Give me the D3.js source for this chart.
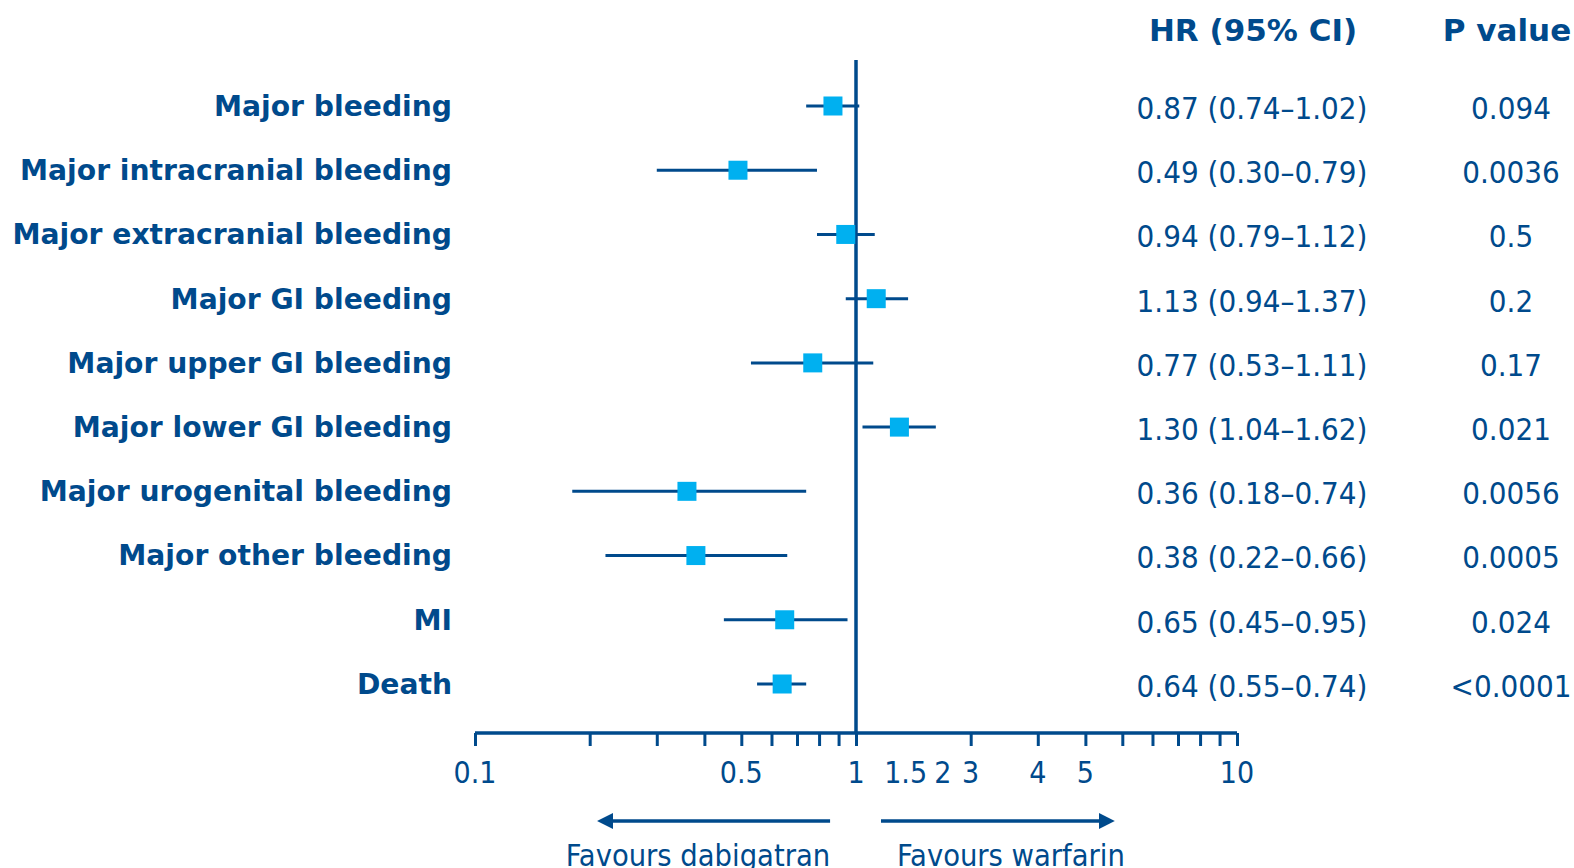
<!DOCTYPE html>
<html>
<head>
<meta charset="utf-8">
<script src="https://cdn.jsdelivr.net/npm/d3@7"></script>
<style>
  html, body { margin: 0; padding: 0; background: #fff; overflow: hidden; }
  svg { display: block; }
</style>
</head>
<body>
<div id="chart"></div>
<script>
// outcomes, top to bottom
const outcomes = [
  "Major bleeding",
  "Major intracranial bleeding",
  "Major extracranial bleeding",
  "Major GI bleeding",
  "Major upper GI bleeding",
  "Major lower GI bleeding",
  "Major urogenital bleeding",
  "Major other bleeding",
  "MI",
  "Death"
]
const hazardRatios = [0.87, 0.49, 0.94, 1.13, 0.77, 1.30, 0.36, 0.38, 0.65, 0.64]
const ciLower = [0.74, 0.30, 0.79, 0.94, 0.53, 1.04, 0.18, 0.22, 0.45, 0.55]
const ciUpper = [1.02, 0.79, 1.12, 1.37, 1.11, 1.62, 0.74, 0.66, 0.95, 0.74]
const hrTexts = [
  "0.87 (0.74–1.02)",
  "0.49 (0.30–0.79)",
  "0.94 (0.79–1.12)",
  "1.13 (0.94–1.37)",
  "0.77 (0.53–1.11)",
  "1.30 (1.04–1.62)",
  "0.36 (0.18–0.74)",
  "0.38 (0.22–0.66)",
  "0.65 (0.45–0.95)",
  "0.64 (0.55–0.74)"
]
const pValues = ["0.094", "0.0036", "0.5", "0.2", "0.17", "0.021", "0.0056", "0.0005", "0.024", "<0.0001"]

// axis ticks and where the original put its labels
const tickValues = [0.1, 0.2, 0.3, 0.4, 0.5, 0.6, 0.7, 0.8, 0.9, 1, 2, 3, 4, 5, 6, 7, 8, 9, 10]
const tickLabelAt = [0.1, 0.5, 1, 1.35, 1.69, 2, 3, 4, 10]
const tickLabelTexts = ["0.1", "0.5", "1", "1.5", "2", "3", "4", "5", "10"]
const favourTexts = ["Favours dabigatran", "Favours warfarin"]
// arrow spans on the HR scale: [start, end]
const favourArrows = [[0.855, 0.226], [1.163, 4.42]]

const width = 1574
const height = 868
const dark = "#004a8c"
const light = "#00b0f0"
const sans = "'DejaVu Sans', sans-serif"
const condensed = "'DejaVu Sans Condensed', 'DejaVu Sans', sans-serif"

const axisY = 733
const lineTop = 60

const x = d3.scaleLog().domain([0.1, 10]).range([475, 1237])
const y = d3
  .scalePoint()
  .domain(d3.range(outcomes.length))
  .range([106, 684])

const svg = d3.select("#chart").append("svg").attr("width", width).attr("height", height)

// column headers
const headers = svg.append("g").attr("font-family", sans).attr("font-weight", "bold").attr("font-size", 31).attr("fill", dark)
headers.append("text").attr("x", 1253).attr("y", 30).attr("dy", "0.35em").attr("text-anchor", "middle").text("HR (95% CI)")
headers.append("text").attr("x", 1507).attr("y", 30).attr("dy", "0.35em").attr("text-anchor", "middle").text("P value")

// row labels
svg.append("g")
  .selectAll("text")
  .data(outcomes)
  .join("text")
  .attr("x", 452)
  .attr("y", (d, i) => y(i))
  .attr("dy", "0.35em")
  .attr("text-anchor", "end")
  .attr("font-family", sans)
  .attr("font-weight", "bold")
  .attr("font-size", 28.2)
  .attr("fill", dark)
  .text(d => d)

// HR and p value columns
const valueCols = svg.append("g").attr("font-family", condensed).attr("font-size", 31).attr("fill", dark)
valueCols.selectAll(".hr")
  .data(hrTexts)
  .join("text")
  .attr("class", "hr")
  .attr("x", 1252)
  .attr("y", (d, i) => y(i) + 2)
  .attr("dy", "0.35em")
  .attr("text-anchor", "middle")
  .text(d => d)
valueCols.selectAll(".pv")
  .data(pValues)
  .join("text")
  .attr("class", "pv")
  .attr("x", 1511)
  .attr("y", (d, i) => y(i) + 2)
  .attr("dy", "0.35em")
  .attr("text-anchor", "middle")
  .text(d => d)

// axis
const axis = svg.append("g").attr("transform", `translate(0,${axisY})`)
axis.call(d3.axisBottom(x).tickValues(tickValues).tickSize(13).tickFormat(""))
axis.select(".domain").attr("d", `M${x(0.1)},0H${x(10)}`).attr("stroke", dark).attr("stroke-width", 3.5)
axis.selectAll(".tick line").attr("stroke", dark).attr("stroke-width", 3)

svg.append("g")
  .selectAll("text")
  .data(tickLabelTexts)
  .join("text")
  .attr("x", (d, i) => x(tickLabelAt[i]))
  .attr("y", 783)
  .attr("text-anchor", "middle")
  .attr("font-family", condensed)
  .attr("font-size", 30)
  .attr("fill", dark)
  .text(d => d)

// line of no effect
svg.append("line")
  .attr("x1", x(1)).attr("x2", x(1))
  .attr("y1", lineTop).attr("y2", axisY)
  .attr("stroke", dark)
  .attr("stroke-width", 3.5)

// confidence intervals
svg.append("g")
  .selectAll("line")
  .data(outcomes)
  .join("line")
  .attr("x1", (d, i) => x(ciLower[i]))
  .attr("x2", (d, i) => x(ciUpper[i]))
  .attr("y1", (d, i) => y(i))
  .attr("y2", (d, i) => y(i))
  .attr("stroke", dark)
  .attr("stroke-width", 3)

// point estimates
const box = 19
svg.append("g")
  .selectAll("rect")
  .data(hazardRatios)
  .join("rect")
  .attr("x", d => x(d) - box / 2)
  .attr("y", (d, i) => y(i) - box / 2)
  .attr("width", box)
  .attr("height", box)
  .attr("fill", light)

// favours arrows
svg.append("defs")
  .append("marker")
  .attr("id", "arrow")
  .attr("viewBox", "0 0 10 10")
  .attr("refX", 2)
  .attr("refY", 5)
  .attr("markerWidth", 4.6)
  .attr("markerHeight", 5)
  .attr("orient", "auto")
  .append("path")
  .attr("d", "M0,0L10,5L0,10Z")
  .attr("fill", dark)

const arrowY = 821
svg.append("g")
  .selectAll("line")
  .data(favourArrows)
  .join("line")
  .attr("x1", d => x(d[0]))
  .attr("x2", d => x(d[1]))
  .attr("y1", arrowY)
  .attr("y2", arrowY)
  .attr("stroke", dark)
  .attr("stroke-width", 3.5)
  .attr("marker-end", "url(#arrow)")

svg.append("g")
  .selectAll("text")
  .data(favourTexts)
  .join("text")
  .attr("x", (d, i) => (i === 0 ? 698 : 1011))
  .attr("y", 866)
  .attr("text-anchor", "middle")
  .attr("font-family", condensed)
  .attr("font-size", 30.5)
  .attr("fill", dark)
  .text(d => d)
</script>
</body>
</html>
